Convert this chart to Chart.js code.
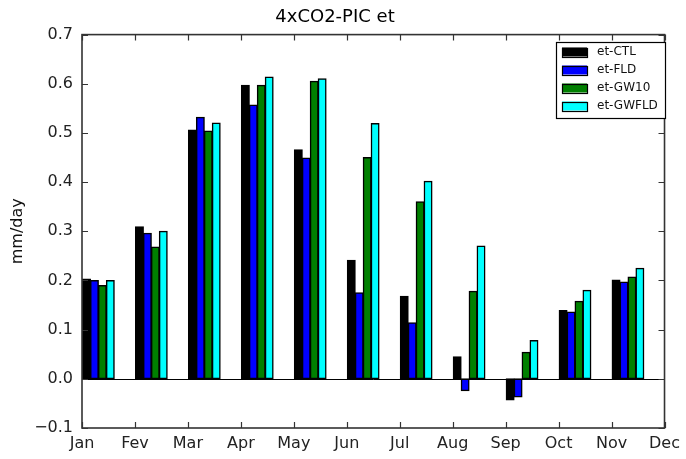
<!DOCTYPE html>
<html>
<head>
<meta charset="utf-8">
<script src="https://cdn.jsdelivr.net/npm/chart.js@4/dist/chart.umd.min.js"></script>
<style>
  html, body { margin: 0; padding: 0; background: #fff; }
  #wrap { width: 686px; height: 459px; }
</style>
</head>
<body>
<div id="wrap"><canvas id="myChart" width="686" height="459"></canvas></div>
<script>
var months = ["Jan", "Fev", "Mar", "Apr", "May", "Jun", "Jul", "Aug", "Sep", "Oct", "Nov", "Dec"];
var seriesNames = ["et-CTL", "et-FLD", "et-GW10", "et-GWFLD"];
var seriesColors = ["#000000", "#0000ff", "#008000", "#00ffff"];
// monthly values Jan..Nov (mm/day)
var etCTL = [0.203, 0.309, 0.506, 0.597, 0.466, 0.241, 0.168, 0.045, -0.043, 0.139, 0.201];
var etFLD = [0.200, 0.296, 0.532, 0.557, 0.449, 0.175, 0.114, -0.024, -0.037, 0.136, 0.197];
var etGW10 = [0.190, 0.268, 0.504, 0.597, 0.605, 0.450, 0.360, 0.178, 0.054, 0.158, 0.207];
var etGWFLD = [0.200, 0.300, 0.520, 0.614, 0.610, 0.519, 0.402, 0.270, 0.078, 0.180, 0.225];
var yTicks = [-0.1, 0.0, 0.1, 0.2, 0.3, 0.4, 0.5, 0.6, 0.7];

var allSeries = [etCTL, etFLD, etGW10, etGWFLD];
var font = "'DejaVu Sans', sans-serif";

// bars start at the month tick, group is 0.6 wide -> centre at +0.3
var datasets = [];
for (var s = 0; s < allSeries.length; s++) {
  var pts = [];
  for (var i = 0; i < allSeries[s].length; i++) {
    pts.push({ x: i + 0.31, y: allSeries[s][i] });
  }
  datasets.push({
    label: seriesNames[s],
    data: pts,
    backgroundColor: seriesColors[s],
    borderColor: "#000",
    borderWidth: 1.5,
    borderSkipped: false,
    inflateAmount: 0.5,
    categoryPercentage: 0.6,
    barPercentage: 1.0
  });
}

// frame, inward ticks, zero line and the legend box (matplotlib look)
var framePlugin = {
  id: "frame",
  afterDatasetsDraw: function (chart) {
    var ctx = chart.ctx;
    var a = chart.chartArea;
    var xs = chart.scales.x;
    var ys = chart.scales.y;
    ctx.save();
    ctx.strokeStyle = "#000";
    ctx.lineWidth = 1;
    var y0 = Math.round(ys.getPixelForValue(0)) + 0.5;
    ctx.beginPath();
    ctx.moveTo(a.left, y0);
    ctx.lineTo(a.right, y0);
    ctx.stroke();
    ctx.strokeStyle = "#333";
    ctx.lineWidth = 1.6;
    ctx.strokeRect(a.left, a.top, a.right - a.left, a.bottom - a.top);
    ctx.lineWidth = 1.2;
    ctx.beginPath();
    for (var i = 0; i < months.length; i++) {
      var px = Math.round(xs.getPixelForValue(i)) + 0.5;
      ctx.moveTo(px, a.bottom); ctx.lineTo(px, a.bottom - 6);
      ctx.moveTo(px, a.top); ctx.lineTo(px, a.top + 6);
    }
    for (var j = 0; j < yTicks.length; j++) {
      var py = Math.round(ys.getPixelForValue(yTicks[j])) + 0.5;
      ctx.moveTo(a.left, py); ctx.lineTo(a.left + 6, py);
      ctx.moveTo(a.right, py); ctx.lineTo(a.right - 6, py);
    }
    ctx.stroke();

    // legend
    var lx = 556.5, ly = 42.5, lw = 109, lh = 76;
    ctx.fillStyle = "#fff";
    ctx.fillRect(lx, ly, lw, lh);
    ctx.strokeStyle = "#000";
    ctx.lineWidth = 1.2;
    ctx.strokeRect(lx, ly, lw, lh);
    ctx.font = "12px " + font;
    ctx.textBaseline = "middle";
    for (var k = 0; k < seriesNames.length; k++) {
      var ry = 52 + k * 18;
      ctx.fillStyle = seriesColors[k];
      ctx.fillRect(562, ry - 4.5, 25, 9);
      ctx.strokeRect(562.5, Math.round(ry - 4.5) + 0.5, 25, 9);
      ctx.fillStyle = "#111";
      ctx.fillText(seriesNames[k], 597, ry);
    }
    ctx.restore();
  }
};

new Chart("myChart", {
  type: "bar",
  data: { datasets: datasets },
  options: {
    responsive: false,
    animation: false,
    layout: { padding: { left: 0, right: 16, top: 0, bottom: 0 } },
    plugins: {
      legend: { display: false },
      tooltip: { enabled: false },
      title: {
        display: true,
        text: "4xCO2-PIC et",
        color: "#000",
        font: { family: font, size: 18, weight: "normal" },
        padding: { top: 7, bottom: 6 }
      }
    },
    scales: {
      x: {
        type: "linear",
        min: 0,
        max: 11,
        offset: false,
        grid: { display: false, drawTicks: false },
        border: { display: false },
        afterBuildTicks: function (scale) {
          scale.ticks = months.map(function (m, i) { return { value: i }; });
        },
        afterFit: function (scale) { scale.height = 31; },
        ticks: {
          color: "#222",
          padding: 6,
          maxRotation: 0,
          autoSkip: false,
          font: { family: font, size: 16 },
          callback: function (v) { return months[v]; }
        }
      },
      y: {
        min: -0.1,
        max: 0.7,
        grid: { display: false, drawTicks: false },
        border: { display: false },
        afterBuildTicks: function (scale) {
          scale.ticks = yTicks.map(function (v) { return { value: v }; });
        },
        afterFit: function (scale) { scale.width = 82; },
        title: {
          display: true,
          text: "mm/day",
          color: "#111",
          font: { family: font, size: 16 },
          padding: { top: 8, bottom: 0 }
        },
        ticks: {
          color: "#222",
          padding: 9,
          font: { family: font, size: 16 },
          callback: function (v) {
            var t = Math.abs(v).toFixed(1);
            return v < -1e-9 ? "\u2212" + t : t;
          }
        }
      }
    }
  },
  plugins: [framePlugin]
});
</script>
</body>
</html>
